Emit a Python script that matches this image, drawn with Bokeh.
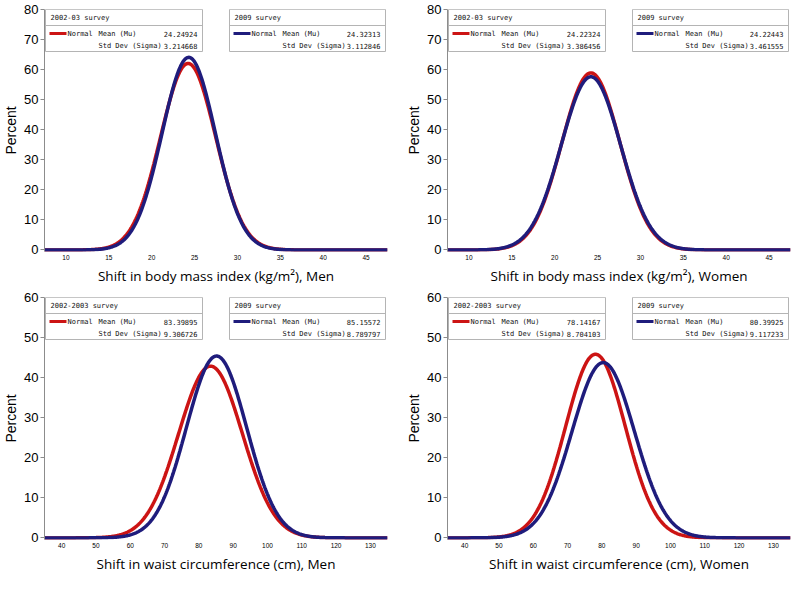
import numpy as np
from bokeh.plotting import figure
from bokeh.layouts import gridplot
from bokeh.models import BoxAnnotation, Label, Range1d, FixedTicker
from bokeh.embed import file_html
from bokeh.resources import INLINE

# ---------------- data ----------------
x_labels = ["Shift in body mass index (kg/m²), Men",
            "Shift in body mass index (kg/m²), Women",
            "Shift in waist circumference (cm), Men",
            "Shift in waist circumference (cm), Women"]
title_early = ["2002-03 survey", "2002-03 survey", "2002-2003 survey", "2002-2003 survey"]
title_late = ["2009 survey", "2009 survey", "2009 survey", "2009 survey"]
mean_early = [24.24924, 24.22324, 83.39895, 78.14167]
sigma_early = [3.214668, 3.386456, 9.306726, 8.704103]
mean_late = [24.32313, 24.22443, 85.15572, 80.39925]
sigma_late = [3.112846, 3.461555, 8.789797, 9.117233]
bin_width = [5, 5, 10, 10]          # histogram bin width used to scale the percent curve
x_ticks_bmi = [10, 15, 20, 25, 30, 35, 40, 45]
x_ticks_waist = [40, 50, 60, 70, 80, 90, 100, 110, 120, 130]
y_ticks_bmi = [0, 10, 20, 30, 40, 50, 60, 70, 80]
y_ticks_waist = [0, 10, 20, 30, 40, 50, 60]

RED = "#cc1414"
BLUE = "#1f1c7c"
MONO = "DejaVu Sans Mono"

x_range_list = [(7.5, 47.5), (7.5, 47.5), (35, 135), (35, 135)]
y_range_list = [(-0.5, 80), (-0.5, 80), (-0.4, 60), (-0.4, 60)]
x_ticks_list = [x_ticks_bmi, x_ticks_bmi, x_ticks_waist, x_ticks_waist]
y_ticks_list = [y_ticks_bmi, y_ticks_bmi, y_ticks_waist, y_ticks_waist]

FW = 343
FH = 242


def normal_percent(x, mu, sigma, bw):
    return 100.0 * bw / (sigma * np.sqrt(2 * np.pi)) * np.exp(-0.5 * ((x - mu) / sigma) ** 2)


def legend_box(p, xr, yr, left_px, width_px, height_px, title, color, mu, sigma):
    ux = (xr[1] - xr[0]) / FW
    uy = (yr[1] - yr[0]) / FH
    L = xr[0] + left_px * ux
    R = xr[0] + (left_px + width_px) * ux
    T = yr[1]
    B = yr[1] - height_px * uy
    sep = yr[1] - 16 * uy
    p.add_layout(BoxAnnotation(left=L, right=R, bottom=B, top=T, fill_color="white",
                               fill_alpha=1.0, line_color="#b4b4b4", line_width=1, line_alpha=1.0))
    p.add_layout(BoxAnnotation(left=L, right=R, bottom=sep, top=T, fill_alpha=0.0,
                               line_color="#b4b4b4", line_width=1, line_alpha=1.0))
    p.add_layout(BoxAnnotation(left=L + 4 * ux, right=L + 21 * ux,
                               bottom=T - 25.5 * uy, top=T - 22.5 * uy,
                               fill_color=color, fill_alpha=1.0, line_alpha=0.0))
    common = dict(text_font=MONO, text_font_size="7px", text_baseline="middle", text_color="#111111")
    p.add_layout(Label(x=L, y=T, x_offset=5, y_offset=-8.5, text=title, **common))
    p.add_layout(Label(x=L, y=T, x_offset=22, y_offset=-24, text="Normal", **common))
    p.add_layout(Label(x=L, y=T, x_offset=53, y_offset=-24, text="Mean (Mu)", **common))
    p.add_layout(Label(x=L, y=T, x_offset=53, y_offset=-36, text="Std Dev (Sigma)", **common))
    p.add_layout(Label(x=R, y=T, x_offset=-5, y_offset=-24, text=f"{mu:.5f}",
                       text_align="right", **common))
    p.add_layout(Label(x=R, y=T, x_offset=-5, y_offset=-36, text=f"{sigma:.6f}",
                       text_align="right", **common))


figs = []
for i in range(4):
    top_row = i < 2
    left_col = i % 2 == 0
    xr = x_range_list[i]
    yr = y_range_list[i]
    p = figure(frame_width=FW, frame_height=FH, output_backend="svg", toolbar_location=None,
               x_range=Range1d(*xr), y_range=Range1d(*yr),
               min_border_left=30,
               min_border_right=16 if left_col else 6,
               min_border_top=9 if top_row else 10,
               min_border_bottom=30)
    p.outline_line_color = None
    p.xgrid.visible = False
    p.ygrid.visible = False
    p.background_fill_color = "white"
    p.border_fill_color = "white"

    # curves
    xs = np.linspace(xr[0], xr[1], 500)
    p.line(xs, normal_percent(xs, mean_early[i], sigma_early[i], bin_width[i]),
           line_color=RED, line_width=3.5)
    p.line(xs, normal_percent(xs, mean_late[i], sigma_late[i], bin_width[i]),
           line_color=BLUE, line_width=3.5)

    # y axis
    ya = p.yaxis[0]
    ya.ticker = FixedTicker(ticks=y_ticks_list[i])
    ya.axis_label = "Percent"
    ya.axis_label_text_font = "Liberation Sans"
    ya.axis_label_text_font_size = "14px"
    ya.axis_label_text_font_style = "normal"
    ya.axis_label_text_color = "black"
    ya.axis_label_standoff = 2
    ya.major_label_text_font = "Liberation Sans"
    ya.major_label_text_font_size = "13px"
    ya.major_label_text_color = "black"
    ya.major_label_standoff = 2
    ya.axis_line_color = "#8c8c8c"
    ya.major_tick_line_color = "#8c8c8c"
    ya.major_tick_out = 4
    ya.major_tick_in = 0
    ya.minor_tick_line_color = None

    # x axis
    xa = p.xaxis[0]
    xa.ticker = FixedTicker(ticks=x_ticks_list[i])
    xa.axis_label = x_labels[i]
    xa.axis_label_text_font = "Open Sans"
    xa.axis_label_text_font_size = "13.5px"
    xa.axis_label_text_font_style = "normal"
    xa.axis_label_text_color = "black"
    xa.axis_label_standoff = 4
    xa.major_label_text_font = "Liberation Sans"
    xa.major_label_text_font_size = "6.5px"
    xa.major_label_text_color = "black"
    xa.major_label_standoff = 3
    xa.axis_line_color = None
    xa.major_tick_line_color = None
    xa.major_tick_in = 0
    xa.major_tick_out = 0
    xa.minor_tick_line_color = None

    legend_box(p, xr, yr, 1, 157, 42, title_early[i], RED, mean_early[i], sigma_early[i])
    legend_box(p, xr, yr, 185, 156, 42, title_late[i], BLUE, mean_late[i], sigma_late[i])
    figs.append(p)

grid = gridplot([[figs[0], figs[1]], [figs[2], figs[3]]], toolbar_location=None)
open("out.html", "w").write(file_html(grid, INLINE))
